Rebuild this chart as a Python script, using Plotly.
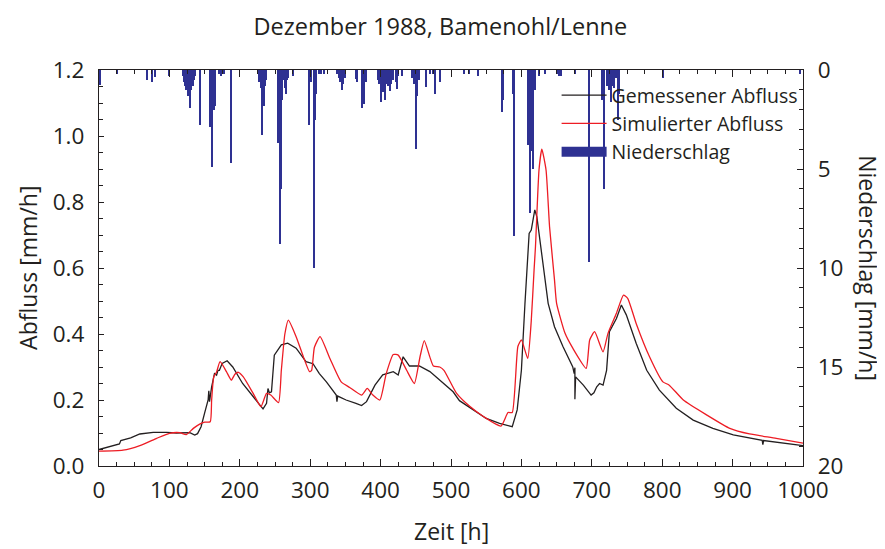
import plotly.graph_objects as go

# Gemessener Abfluss [mm/h] (Zeit in h)
t_gemessen = [0, 15, 29, 31, 45, 58, 77, 96, 110, 129, 136, 140, 145, 150, 153, 155, 156, 157,
              160, 164, 167, 169, 171, 175, 182, 190, 204, 219, 233, 238, 240, 242, 245, 249,
              259, 268, 280, 294, 304, 313, 323, 337, 338, 339, 351, 365, 373, 380, 392, 403,
              418, 425, 432, 441, 455, 470, 489, 503, 512, 531, 550, 569, 587, 594, 600, 605,
              607, 611, 614, 619, 622, 628, 634, 638, 647, 659, 673, 675, 676, 676, 677, 688,
              699, 703, 707, 711, 716, 721, 725, 735, 742, 749, 763, 778, 796, 820, 844, 872,
              901, 942, 943, 944, 972, 1000]
q_gemessen = [0.050, 0.059, 0.067, 0.077, 0.085, 0.097, 0.102, 0.102, 0.100, 0.101, 0.094, 0.098,
              0.119, 0.160, 0.185, 0.200, 0.228, 0.195, 0.240, 0.280, 0.275, 0.290, 0.290, 0.311,
              0.319, 0.300, 0.250, 0.210, 0.173, 0.190, 0.235, 0.222, 0.225, 0.336, 0.367, 0.372,
              0.357, 0.316, 0.310, 0.280, 0.255, 0.215, 0.195, 0.212, 0.200, 0.190, 0.183, 0.195,
              0.245, 0.276, 0.286, 0.276, 0.331, 0.303, 0.303, 0.286, 0.250, 0.225, 0.198, 0.170,
              0.144, 0.129, 0.119, 0.170, 0.290, 0.490, 0.564, 0.705, 0.715, 0.776, 0.755, 0.655,
              0.560, 0.493, 0.422, 0.362, 0.300, 0.280, 0.298, 0.202, 0.270, 0.245, 0.215, 0.222,
              0.240, 0.250, 0.245, 0.290, 0.407, 0.447, 0.488, 0.458, 0.372, 0.290, 0.230, 0.175,
              0.139, 0.114, 0.094, 0.078, 0.065, 0.077, 0.069, 0.062]

# Simulierter Abfluss [mm/h]
t_simuliert = [0, 34, 58, 82, 100, 115, 124, 134, 143, 150, 158, 160, 163, 167, 172, 181, 188,
               193, 198, 205, 219, 230, 238, 244, 255, 259, 264, 269, 280, 299, 302, 306, 314,
               328, 344, 356, 373, 381, 389, 399, 408, 418, 425, 437, 448, 456, 462, 470, 475,
               484, 490, 508, 527, 546, 571, 581, 587, 595, 600, 609, 614, 618, 620, 625, 629,
               635, 640, 647, 650, 662, 673, 692, 697, 704, 716, 723, 735, 745, 751, 763, 782,
               801, 810, 830, 863, 896, 924, 962, 1000]
q_simuliert = [0.045, 0.048, 0.062, 0.084, 0.099, 0.101, 0.095, 0.114, 0.127, 0.133, 0.134, 0.200,
               0.270, 0.285, 0.316, 0.286, 0.260, 0.278, 0.284, 0.270, 0.220, 0.180, 0.220, 0.215,
               0.192, 0.290, 0.400, 0.442, 0.392, 0.286, 0.290, 0.360, 0.392, 0.326, 0.255, 0.238,
               0.215, 0.235, 0.215, 0.200, 0.280, 0.338, 0.336, 0.290, 0.250, 0.331, 0.380, 0.330,
               0.303, 0.300, 0.290, 0.220, 0.180, 0.150, 0.121, 0.162, 0.162, 0.362, 0.382, 0.326,
               0.440, 0.594, 0.665, 0.897, 0.960, 0.897, 0.725, 0.564, 0.493, 0.402, 0.357, 0.296,
               0.382, 0.407, 0.346, 0.402, 0.463, 0.518, 0.508, 0.432, 0.331, 0.255, 0.245, 0.200,
               0.155, 0.114, 0.097, 0.084, 0.069]

# Niederschlag [mm/h]
t_niederschlag = [1, 25, 68, 75, 79, 100, 119, 121, 122, 124, 125, 127, 130, 131, 133, 135, 137,
                  144, 158, 160, 161, 163, 164, 165, 171, 174, 177, 188, 228, 230, 231, 232, 234,
                  235, 236, 237, 255, 256, 257, 258, 259, 260, 262, 263, 264, 265, 266, 267, 268,
                  275, 299, 301, 305, 306, 307, 308, 313, 316, 320, 338, 341, 343, 345, 347, 349,
                  365, 367, 374, 376, 377, 379, 396, 398, 400, 401, 403, 405, 406, 408, 410, 411,
                  413, 415, 417, 422, 423, 425, 431, 445, 447, 449, 450, 452, 454, 464, 470, 474,
                  477, 478, 485, 519, 526, 538, 572, 573, 574, 588, 589, 590, 609, 610, 611, 612,
                  613, 614, 615, 616, 617, 619, 620, 625, 633, 650, 654, 657, 676, 696, 715, 717,
                  721, 722, 724, 726, 727, 729, 730, 731, 732, 734, 737, 738, 739, 801, 996]
p_niederschlag = [0.75, 0.2, 0.5, 0.6, 0.35, 0.3, 0.3, 0.6, 0.8, 1.0, 0.9, 1.3, 1.9, 1.0, 0.8, 0.5, 0.3,
                  2.8, 2.9, 4.9, 4.1, 1.9, 2.0, 1.8, 0.2, 0.3, 0.2, 4.7, 0.6, 0.9, 1.3, 3.3, 1.8,
                  0.7, 0.8, 0.5, 3.7, 3.7, 8.8, 6.0, 6.0, 1.5, 0.3, 0.5, 0.9, 1.2, 0.8, 0.5, 0.4,
                  0.3, 2.8, 0.6, 2.5, 10.0, 2.5, 1.2, 0.2, 0.2, 0.2, 0.2, 0.4, 0.6, 1.0, 0.7, 0.4,
                  0.45, 0.6, 1.9, 1.3, 1.7, 0.6, 0.5, 0.7, 0.9, 1.6, 1.1, 0.8, 1.5, 0.7, 0.6, 0.8,
                  1.05, 0.7, 0.5, 0.6, 0.95, 0.3, 0.3, 0.4, 0.7, 0.6, 4.0, 1.3, 0.5, 0.85, 0.2, 0.2,
                  1.2, 1.1, 0.6, 0.2, 0.2, 0.3, 1.8, 2.1, 1.5, 1.2, 8.4, 1.0, 1.5, 3.8, 0.9, 7.2,
                  0.9, 0.9, 4.1, 0.9, 5.0, 0.9, 1.0, 0.3, 0.2, 0.2, 0.3, 0.3, 0.2, 9.7, 1.5, 6.0,
                  0.6, 0.8, 1.0, 0.7, 1.6, 0.8, 0.6, 0.9, 0.5, 0.4, 0.8, 2.5, 1.2, 0.4, 0.2]

schwarz = '#231F20'
rot = '#ED1C24'
blau = '#2E3192'
schrift = 'Open Sans'

fig = go.Figure()

# Niederschlag als Balken von oben (rechte, umgekehrte Achse)
fig.add_trace(go.Bar(x=t_niederschlag, y=p_niederschlag, yaxis='y2', width=1.6,
                     marker=dict(color=blau, line=dict(width=0)), showlegend=False,
                     name='Niederschlag'))

fig.add_trace(go.Scatter(x=t_gemessen, y=q_gemessen, mode='lines', name='Gemessener Abfluss',
                         line=dict(color=schwarz, width=1.3)))
fig.add_trace(go.Scatter(x=t_simuliert, y=q_simuliert, mode='lines', name='Simulierter Abfluss',
                         line=dict(color=rot, width=1.3, shape='spline', smoothing=0.5)))
# nur für die Legende (breiter Balken)
fig.add_trace(go.Scatter(x=[None], y=[None], mode='lines', name='Niederschlag',
                         line=dict(color=blau, width=11)))

achse = dict(showline=True, linecolor=schwarz, linewidth=1.3, ticks='inside', tickcolor=schwarz,
             showgrid=False, zeroline=False, tickfont=dict(size=22.5, color=schwarz),
             ticklabelstandoff=9, automargin=False)

# die Seite hat 8 px Rand, daher 877 x 541
fig.update_layout(
    width=877, height=541,
    margin=dict(l=91, r=82, t=62, b=83),
    plot_bgcolor='white', paper_bgcolor='white',
    font=dict(family=schrift, color=schwarz),
    title=dict(text='Dezember 1988, Bamenohl/Lenne', x=0.493, xanchor='center',
               y=0.966, yanchor='middle', font=dict(size=23.5, color=schwarz)),
    xaxis=dict(achse, range=[0, 1000], dtick=100, ticklen=7, mirror='ticks',
               ticklabelstandoff=4,
               minor=dict(dtick=25, ticks='inside', ticklen=4, tickcolor=schwarz)),
    yaxis=dict(achse, range=[0, 1.2], dtick=0.2, tickformat='.1f', ticklen=5,
               minor=dict(dtick=0.05, ticks='inside', ticklen=4, tickcolor=schwarz)),
    yaxis2=dict(achse, overlaying='y', side='right', range=[20, 0], dtick=5, ticklen=6,
                minor=dict(dtick=1, ticks='inside', ticklen=4, tickcolor=schwarz)),
    legend=dict(x=0.650, y=0.985, xanchor='left', yanchor='top', bgcolor='rgba(0,0,0,0)',
                font=dict(size=19.5, color=schwarz), itemwidth=45, tracegroupgap=0),
    bargap=0,
    annotations=[
        dict(text='Zeit [h]', xref='paper', yref='paper', x=0.5, y=-0.165,
             xanchor='center', yanchor='middle', showarrow=False,
             font=dict(size=23, color=schwarz)),
        dict(text='Abfluss [mm/h]', textangle=-90, xref='paper', yref='paper',
             x=-0.101, y=0.5, xanchor='center', yanchor='middle', showarrow=False,
             font=dict(size=23, color=schwarz)),
        dict(text='Niederschlag [mm/h]', textangle=90, xref='paper', yref='paper',
             x=1.092, y=0.5, xanchor='center', yanchor='middle', showarrow=False,
             font=dict(size=23, color=schwarz)),
    ],
)

fig.write_html('out.html')
